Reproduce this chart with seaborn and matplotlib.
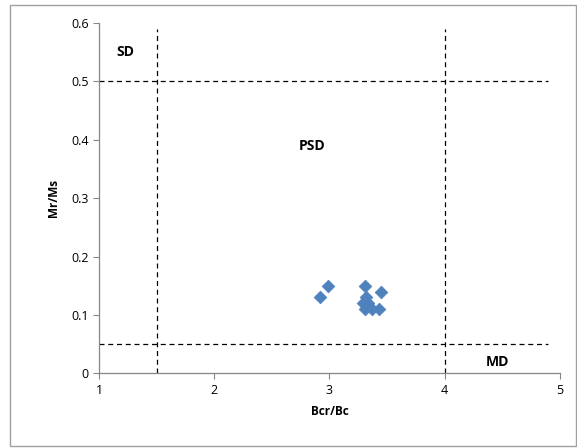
import matplotlib
matplotlib.use("Agg")
import matplotlib.pyplot as plt
import seaborn as sns
import pandas as pd
from matplotlib.patches import Rectangle

sns.set_style("white")
plt.rcParams["font.family"] = ["Open Sans", "DejaVu Sans"]
plt.rcParams["text.color"] = "black"
plt.rcParams["axes.labelcolor"] = "black"
plt.rcParams["xtick.labelcolor"] = "black"
plt.rcParams["ytick.labelcolor"] = "black"

# Data
bcr_bc = [2.92, 2.99, 3.31, 3.45, 3.32, 3.29, 3.31, 3.37, 3.43, 3.33]
mr_ms = [0.13, 0.15, 0.15, 0.14, 0.13, 0.12, 0.11, 0.11, 0.11, 0.12]
x_ticks = [1, 2, 3, 4, 5]
y_ticks = [0, 0.1, 0.2, 0.3, 0.4, 0.5, 0.6]
# Boundary lines (Day plot)
sd_limit_x = 1.5
md_limit_x = 4.0
sd_limit_y = 0.5
md_limit_y = 0.05
regions = ["SD", "PSD", "MD"]
region_pos = [(1.23, 0.55), (2.85, 0.39), (4.46, 0.02)]

df = pd.DataFrame({"Bcr/Bc": bcr_bc, "Mr/Ms": mr_ms})

fig = plt.figure(figsize=(5.77, 4.48), dpi=100)
ax = fig.add_axes([0.1716, 0.1667, 0.7989, 0.782])

sns.scatterplot(data=df, x="Bcr/Bc", y="Mr/Ms", marker="D", s=42,
                color="#4F81BD", edgecolor="#4F81BD", linewidth=0.5, ax=ax, zorder=3)

dash = dict(color="black", linestyle=(0, (4, 3)), linewidth=0.9)
ax.plot([sd_limit_x, sd_limit_x], [0, 0.59], **dash)
ax.plot([md_limit_x, md_limit_x], [0, 0.59], **dash)
ax.plot([1, 4.9], [sd_limit_y, sd_limit_y], **dash)
ax.plot([1, 4.9], [md_limit_y, md_limit_y], **dash)

for name, (tx, ty) in zip(regions, region_pos):
    ax.text(tx, ty, name, fontsize=10, fontweight="bold", ha="center", va="center",
            color="black")

ax.set_xlim(1, 5)
ax.set_ylim(0, 0.6)
ax.set_xticks(x_ticks)
ax.set_yticks(y_ticks)
ax.set_yticklabels([f"{v:g}" if v == 0 else f"{v:.1f}" for v in y_ticks])
ax.set_xlabel("Bcr/Bc", fontsize=8.5, fontweight="bold", labelpad=6)
ax.set_ylabel("Mr/Ms", fontsize=8.5, fontweight="bold", labelpad=8)
ax.tick_params(axis="both", labelsize=9, direction="out", length=4, width=0.8,
               color="#868686", bottom=True, left=True)

for side in ["top", "right"]:
    ax.spines[side].set_visible(False)
for side in ["left", "bottom"]:
    ax.spines[side].set_color("#868686")
    ax.spines[side].set_linewidth(0.9)

fig.patches.append(Rectangle((0.017, 0.004), 0.981, 0.985, transform=fig.transFigure,
                             fill=False, edgecolor="#A0A0A0", linewidth=1))

plt.savefig("out.png", dpi=100)
plt.close()
